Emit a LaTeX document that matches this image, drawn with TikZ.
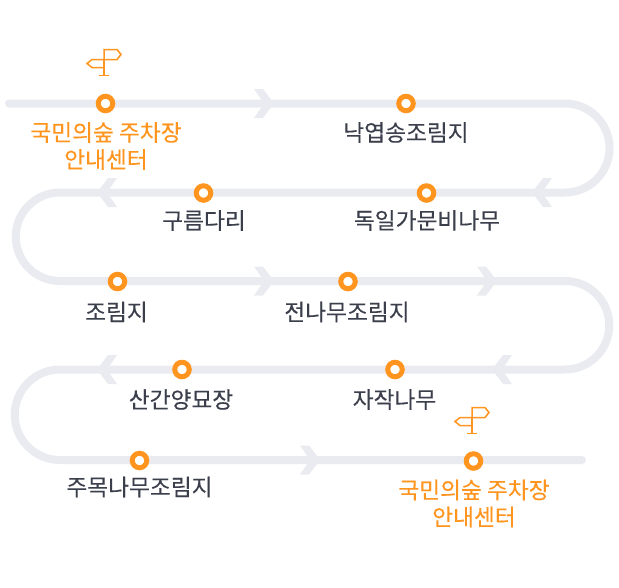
\documentclass[tikz,border=0pt]{standalone}
\usepackage{fontspec}
\newfontfamily\krfont[FakeBold=0.2]{Noto Sans CJK KR}
\definecolor{trail}{HTML}{EAEBF1}
\definecolor{mark}{HTML}{FF951E}
\definecolor{ink}{HTML}{3A3F4B}
\tikzset{
  trailline/.style={draw=trail,line width=8pt,line cap=round},
  chev/.style={fill=trail},
  stop/.style={circle,draw=mark,fill=white,line width=5pt,minimum size=14.5pt,inner sep=0pt,outer sep=0pt},
  place/.style={font=\krfont\fontsize{22.7}{27}\selectfont,text=ink,align=center,inner sep=0pt,anchor=center},
  start/.style={place,text=mark},
  signpost/.style={draw=mark,line width=1.5pt,line join=miter}
}
\newcommand{\chevr}[2]{\fill[chev] (#1-20,#2-14.5) -- (#1-11,#2-14.5) -- (#1,#2) -- (#1-11,#2+14.5) -- (#1-20,#2+14.5) -- (#1-10,#2) -- cycle;}
\newcommand{\chevl}[2]{\fill[chev] (#1+20,#2-14.5) -- (#1+11,#2-14.5) -- (#1,#2) -- (#1+11,#2+14.5) -- (#1+20,#2+14.5) -- (#1+10,#2) -- cycle;}
\newcommand{\sign}[2]{%
  \begin{scope}[shift={(#1,#2)}]
    \draw[signpost] (0,10) -- (0,0) -- (13,0) -- (17,5) -- (13,10) -- (-12,10) -- (-17,14) -- (-12,18) -- (0,18);
    \draw[signpost] (0,10) -- (0,26);
    \draw[signpost] (-5,26) -- (5,26);
  \end{scope}}
\begin{document}
\begin{tikzpicture}[x=1pt,y=-1pt]
\useasboundingbox (0,0) rectangle (619,587);
\coordinate (s) at (9,103.5);
\coordinate (e) at (582,460);
\draw[trailline] (s) -- (565,103.5) arc[start angle=-90,end angle=90,radius=44.5] -- (60,192.5)
  arc[start angle=-90,end angle=-270,radius=44.25] -- (565,281)
  arc[start angle=-90,end angle=90,radius=44.25] -- (60,369.5)
  arc[start angle=-90,end angle=-270,radius=45.25] -- (e);
\chevr{274}{103.5}\chevl{532}{192.5}\chevl{97}{192.5}
\chevr{274}{281}\chevr{497}{281}\chevl{492}{369.5}\chevl{97}{369.5}\chevr{320}{460}
\node[stop] (a1) at (105.5,103.5) {};
\node[stop] (a2) at (406,103.5) {};
\node[stop] (a3) at (426.5,193) {};
\node[stop] (a4) at (203.5,193) {};
\node[stop] (a5) at (117.5,281.5) {};
\node[stop] (a6) at (348,281.5) {};
\node[stop] (a7) at (395,369.5) {};
\node[stop] (a8) at (182,369.5) {};
\node[stop] (a9) at (139.5,460.5) {};
\node[stop] (a10) at (473.5,461) {};
\node[start] (t1) at (106,146) {국민의숲 주차장\\안내센터};
\node[place] (t2) at (406,132.5) {낙엽송조림지};
\node[place] (t3) at (427,220.5) {독일가문비나무};
\node[place] (t4) at (204,220.5) {구름다리};
\node[place] (t5) at (116.5,312) {조림지};
\node[place] (t6) at (347,312) {전나무조림지};
\node[place] (t7) at (394.5,399.5) {자작나무};
\node[place] (t8) at (181,399.5) {산간양묘장};
\node[place] (t9) at (139.5,487) {주목나무조림지};
\node[start] (t10) at (474,503.5) {국민의숲 주차장\\안내센터};
\sign{104}{49.5}
\sign{472}{407.5}
\end{tikzpicture}
\end{document}
